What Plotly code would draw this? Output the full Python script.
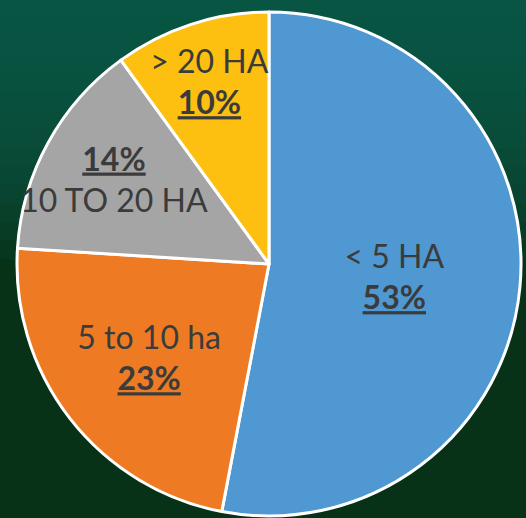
import plotly.graph_objects as go

categories = ["< 5 HA", "5 to 10 ha", "10 TO 20 HA", "> 20 HA"]
values = [53, 23, 14, 10]
colors = ["#4f98d2", "#ee7b24", "#a5a5a5", "#fdc010"]
pct_first = [False, False, True, False]

texts = []
for c, v, pf in zip(categories, values, pct_first):
    p = f"<b><u>{v}%</u></b>"
    texts.append(f"{p}<br>{c}" if pf else f"{c}<br>{p}")

fig = go.Figure()
fig.add_trace(go.Pie(
    labels=categories,
    values=values,
    text=texts,
    textinfo="text",
    textposition="inside",
    insidetextorientation="horizontal",
    sort=False,
    direction="clockwise",
    rotation=0,
    marker=dict(colors=colors, line=dict(color="white", width=3)),
    textfont=dict(family="Lato, 'Open Sans', sans-serif", size=32, color="#3b3b3b"),
    showlegend=False,
    hoverinfo="label+percent",
    domain=dict(x=[17/526, 521/526], y=[2/518, 506/518]),
))

# background gradient (teal sky to dark green ground)
shapes = []
n = 14
for i in range(n):
    y0 = 0.5 + i * 0.5 / n
    shapes.append(dict(type="rect", xref="paper", yref="paper", layer="below",
                       x0=0, x1=1, y0=y0, y1=1, line=dict(width=0),
                       fillcolor="rgba(16,90,80,0.14)"))
fig.update_layout(
    width=526, height=518,
    margin=dict(l=0, r=0, t=0, b=0),
    paper_bgcolor="#073218",
    plot_bgcolor="#073218",
    shapes=shapes,
    uniformtext=dict(minsize=32, mode="show"),
)
fig.write_html("out.html", config={"displayModeBar": False},
               post_script="document.body.style.margin='0';document.body.style.overflow='hidden';")
